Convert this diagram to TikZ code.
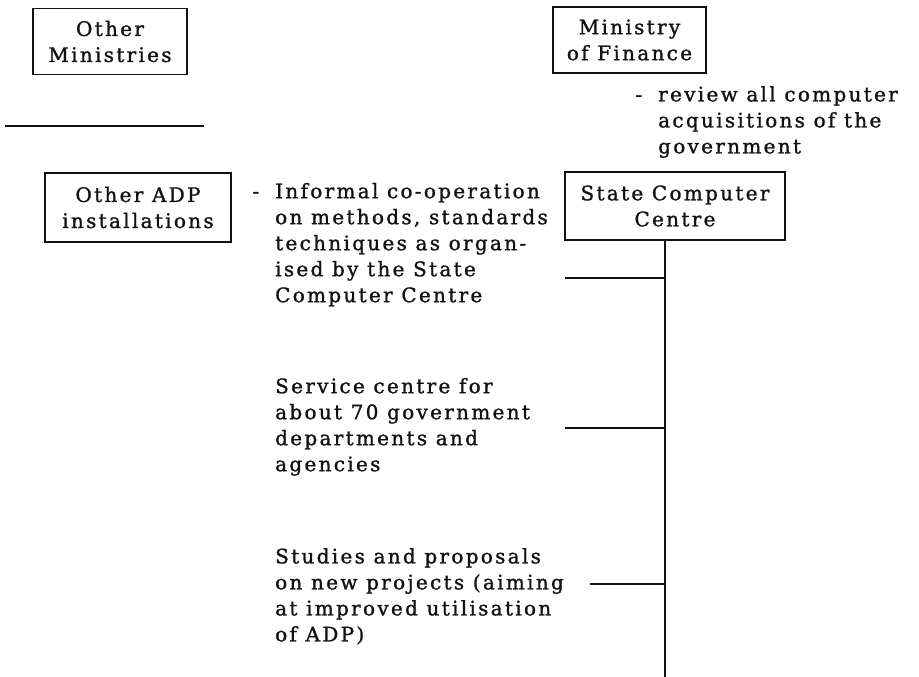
\documentclass[tikz,border=0pt]{standalone}
\usepackage{fontspec}
\setmainfont{DejaVu Serif}[LetterSpace=11.5, FakeBold=1.2]
\usetikzlibrary{calc}
\definecolor{paper}{HTML}{FFFFFF}
\definecolor{ink}{HTML}{111111}
\newcommand{\PageW}{919}
\newcommand{\PageH}{677}
\newcommand{\TrunkX}{665}
\newcommand{\NoteX}{275}
\newcommand{\DashGap}{16pt}

\begin{document}
\begin{tikzpicture}[x=1pt, y=-1pt,
    font=\fontsize{20}{26}\selectfont, ink,
    rule/.style={draw=ink, line width=1.6pt},
    office/.style={draw=ink, line width=1.4pt, fill=paper, align=center, inner sep=0pt, minimum width=#1, minimum height=66pt},
    note/.style={anchor=north west, align=left, inner sep=0pt},
  ]

% --- Page ----------------------------------------------------------------------
\useasboundingbox[fill=paper] (0,0) rectangle (\PageW,\PageH);

% --- Offices -------------------------------------------------------------------
\node[office=154pt] (othermin) at (110,41.5) {Other\\Ministries};
\node[office=153pt] (finance) at (629.5,40) {Ministry\\of Finance};
\node[office=186pt, minimum height=69pt] (otheradp) at (138,207.5) {Other ADP\\installations};
\node[office=220pt, minimum height=68pt] (scc) at (675,206) {State Computer\\Centre};

% --- Separator under the other ministries ---------------------------------------
\coordinate (sepL) at (5,126);
\coordinate (sepR) at (204,126);
\draw[rule] (sepL) -- (sepR);

% --- Notes ---------------------------------------------------------------------
\node[note] (review) at (658,86)
  {\llap{-\hspace{\DashGap}}review all computer\\acquisitions of the\\government};
\node[note] (coop) at (\NoteX,182.8)
  {\llap{-\hspace{\DashGap}}Informal co-operation\\on methods, standards\\techniques as organ-\\ised by the State\\Computer Centre};
\node[note] (service) at (\NoteX,377.8)
  {Service centre for\\about 70 government\\departments and\\agencies};
\node[note] (studies) at (\NoteX,548)
  {Studies and proposals\\on new projects (aiming\\at improved utilisation\\of ADP)};

% --- Trunk and branches ----------------------------------------------------------
\coordinate (trunkend) at (\TrunkX,\PageH);
\draw[rule] (scc.south -| trunkend) -- (trunkend);
\foreach \name/\x/\y in {coopend/565/278, serviceend/565/428, studiesend/590/584} {
  \coordinate (\name) at (\x,\y);
  \draw[rule] (\name) -- (\name -| trunkend);
}

\end{tikzpicture}
\end{document}
